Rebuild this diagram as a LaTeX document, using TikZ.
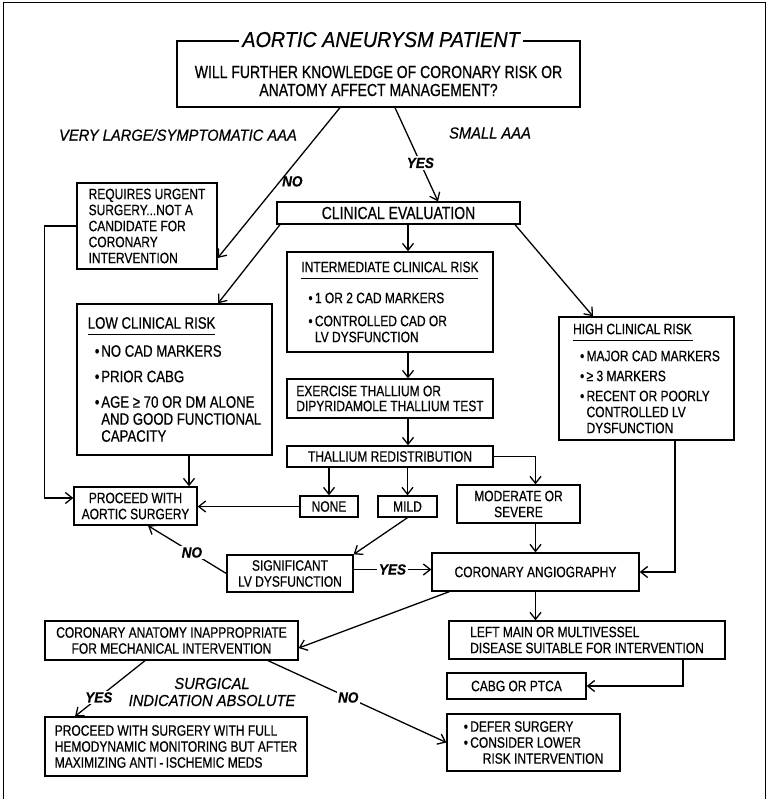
\documentclass[tikz,border=0pt]{standalone}
\usepackage{fontspec}
\setmainfont{Liberation Sans}[FakeStretch=0.8, FakeBold=0.6]
\newfontfamily\tagfont{Liberation Sans}[FakeStretch=0.92, FakeBold=0.6]
\usetikzlibrary{arrows.meta,positioning}
\newcommand{\headrule}[1]{\rlap{\rule[-6.5pt]{#1}{1.1pt}}}
\newcommand{\dotmark}{\makebox[6.5pt][l]{\textbullet}}
\newcommand{\riskitem}{\hspace*{7pt}\dotmark}
\newcommand{\contline}{\hspace*{13.5pt}}
\tikzset{
  flowbox/.style={draw, line width=1.3pt, inner sep=0pt, align=center,
    font=\fontsize{15}{16}\selectfont},
  riskbox/.style={flowbox, align=left},
  flowarrow/.style={-{Straight Barb[length=7pt,width=11pt,line width=1.3pt]}, line width=1.3pt},
  branchtag/.style={font=\tagfont\fontsize{16}{17}\selectfont\itshape, align=center},
  answertag/.style={font=\tagfont\fontsize{14.7}{16}\selectfont\bfseries\itshape,
    fill=white, inner sep=1.5pt}
}

\begin{document}
\begin{tikzpicture}[x=1pt, y=-1pt]
  \useasboundingbox (0,0) rectangle (768,799);
  \draw[line width=1pt] (3,799) -- (3,3) -- (765,3) -- (765,799);
  \coordinate (midcol) at (408,0);
  \coordinate (rightcol) at (535.5,0);

  % question at the top
  \node[flowbox, minimum width=403pt, minimum height=66pt] (question) at (378.5,74) {};
  \node[font=\fontsize{17.5}{18}\selectfont, align=center] (questiontext) at (378.5,81)
    {WILL FURTHER KNOWLEDGE OF CORONARY RISK OR\\ANATOMY AFFECT MANAGEMENT?};
  \node[font=\tagfont\fontsize{21.5}{22}\selectfont\itshape, fill=white, inner xsep=3pt,
    inner ysep=1pt, anchor=base] (title) at (381,47) {AORTIC ANEURYSM PATIENT};
  \node[branchtag] (largeaaa) at (178,135) {VERY LARGE/SYMPTOMATIC AAA};
  \node[branchtag] (smallaaa) at (490,133) {SMALL AAA};

  % risk assessment
  \node[flowbox, align=left, minimum width=140pt, minimum height=86pt] (urgent) at (147,226)
    {REQUIRES URGENT\\SURGERY...NOT A\\CANDIDATE FOR\\CORONARY\\INTERVENTION};
  \node[flowbox, minimum width=243pt, minimum height=22pt, font=\fontsize{17.5}{18}\selectfont]
    (clin) at (398.5,213) {CLINICAL EVALUATION};
  \node[riskbox, minimum width=206pt, minimum height=100pt] (inter) at (390,302)
    {\headrule{177pt}INTERMEDIATE CLINICAL RISK\\[13pt]
     \riskitem 1 OR 2 CAD MARKERS\\[7pt]
     \riskitem CONTROLLED CAD OR\\
     \contline LV DYSFUNCTION};
  \node[riskbox, minimum width=195pt, minimum height=151pt, font=\fontsize{16.5}{17}\selectfont]
    (low) at (174.5,379.5)
    {\headrule{127pt}LOW CLINICAL RISK\\[9pt]
     \riskitem NO CAD MARKERS\\[8.5pt]
     \riskitem PRIOR CABG\\[8.5pt]
     \riskitem AGE ≥ 70 OR DM ALONE\\
     \contline AND GOOD FUNCTIONAL\\
     \contline CAPACITY};
  \node[riskbox, minimum width=175pt, minimum height=123pt] (high) at (646.5,378.5)
    {\headrule{120pt}HIGH CLINICAL RISK\\[9pt]
     \riskitem MAJOR CAD MARKERS\\[4pt]
     \riskitem ≥ 3 MARKERS\\[4pt]
     \riskitem RECENT OR POORLY\\
     \contline CONTROLLED LV\\
     \contline DYSFUNCTION};

  % thallium testing
  \node[flowbox, align=left, minimum width=206pt, minimum height=39pt,
    font=\fontsize{15}{15}\selectfont] (exer) at (390,398.5)
    {EXERCISE THALLIUM OR\\DIPYRIDAMOLE THALLIUM TEST};
  \node[flowbox, minimum width=206pt, minimum height=21pt] (redist) at (390,456.5)
    {THALLIUM REDISTRIBUTION};
  \node[flowbox, minimum width=58pt, minimum height=21pt] (none) at (329,506.5) {NONE};
  \node[flowbox, minimum width=59pt, minimum height=21pt] (mild) at (407.5,506.5) {MILD};
  \node[flowbox, minimum width=123pt, minimum height=38pt] (modsev) at (518.5,504)
    {MODERATE OR\\SEVERE};
  \node[flowbox, minimum width=123pt, minimum height=38pt] (proceed) at (135.5,506)
    {PROCEED WITH\\AORTIC SURGERY};
  \node[flowbox, minimum width=126pt, minimum height=37pt] (signif) at (290,573.5)
    {SIGNIFICANT\\LV DYSFUNCTION};

  % angiography and outcome
  \node[flowbox, minimum width=207pt, minimum height=38pt] (angio) at (535.5,572)
    {CORONARY ANGIOGRAPHY};
  \node[flowbox, align=left, minimum width=276pt, minimum height=38pt] (leftmain) at (587,640)
    {LEFT MAIN OR MULTIVESSEL\\DISEASE SUITABLE FOR INTERVENTION};
  \node[flowbox, minimum width=139pt, minimum height=26pt] (cabg) at (516.5,686) {CABG OR PTCA};
  \node[flowbox, minimum width=253pt, minimum height=39pt] (coranat) at (171.5,640.5)
    {CORONARY ANATOMY INAPPROPRIATE\\FOR MECHANICAL INTERVENTION};
  \node[flowbox, align=left, minimum width=262pt, minimum height=59pt] (proceedfull)
    at (176,746.5)
    {PROCEED WITH SURGERY WITH FULL\\HEMODYNAMIC MONITORING BUT AFTER\\
     MAXIMIZING ANTI\,-\,ISCHEMIC MEDS};
  \node[flowbox, align=left, minimum width=173pt, minimum height=57pt] (defer) at (533.5,742.5)
    {\dotmark DEFER SURGERY\\ \dotmark CONSIDER LOWER\\ \hspace*{19pt}RISK INTERVENTION};
  \node[branchtag] (absolute) at (212,692) {SURGICAL\\INDICATION ABSOLUTE};

  % connectors
  \draw[flowarrow] ([xshift=-38.5pt]question.south) --
    node[answertag, pos=0.49, right, fill=none] (urgentno) {NO} ([yshift=-32pt]urgent.east);
  \draw[flowarrow] ([xshift=16.5pt]question.south) --
    node[answertag, pos=0.59] (smallyes) {YES} ([xshift=39.5pt]clin.north);
  \draw[flowarrow] (urgent.west) -- ++(-32,0) |- ([yshift=8pt]proceed.west);
  \draw[flowarrow] ([xshift=-118.5pt]clin.south) -- ([xshift=43.5pt]low.north);
  \draw[flowarrow] (clin.south -| midcol) -- (inter.north -| midcol);
  \draw[flowarrow] ([xshift=116.5pt]clin.south) -- ([xshift=-53.5pt]high.north);
  \draw[flowarrow] (inter.south -| midcol) -- (exer.north -| midcol);
  \draw[flowarrow] (exer.south -| midcol) -- (redist.north -| midcol);
  \draw[flowarrow] (redist.south -| none.north) -- (none.north);
  \draw[flowarrow] (redist.south -| mild.north) -- (mild.north);
  \draw[flowarrow] (redist.east) -| (modsev.north -| rightcol);
  \draw[flowarrow] ([xshift=14.5pt]low.south) -- ([xshift=14.5pt]low.south |- proceed.north);
  \draw[flowarrow] (none.west) -- (none.west -| proceed.east);
  \draw[flowarrow] (mild.south) -- (signif.north east);
  \draw[flowarrow] (signif.west) --
    node[answertag, pos=0.44] (lvno) {NO} ([xshift=12.5pt]proceed.south);
  \draw[flowarrow] ([yshift=4pt]signif.east) --
    node[answertag, pos=0.5] (lvyes) {YES} ([yshift=4pt]signif.east -| angio.west);
  \draw[flowarrow] (modsev.south -| rightcol) -- (angio.north -| rightcol);
  \draw[flowarrow] ([xshift=28.5pt]high.south) |- (angio.east);
  \draw[flowarrow] (angio.south -| rightcol) -- (leftmain.north -| rightcol);
  \draw[flowarrow] ([xshift=96pt]leftmain.south) |- (cabg.east);
  \draw[flowarrow] ([xshift=18pt]angio.south west) -- ([yshift=-7.5pt]coranat.east);
  \draw[flowarrow] ([xshift=-26.5pt]coranat.south) --
    node[answertag, pos=0.66] (absyes) {YES} ([xshift=-101pt]proceedfull.north);
  \draw[flowarrow] ([xshift=96.5pt]coranat.south) --
    node[answertag, pos=0.45] (absno) {NO} (defer.west);
\end{tikzpicture}
\end{document}
